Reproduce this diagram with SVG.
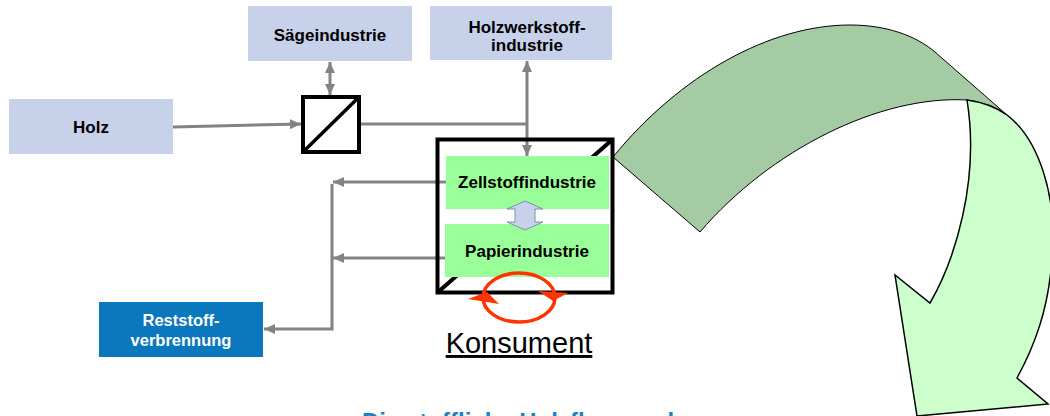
<svg xmlns="http://www.w3.org/2000/svg" width="1050" height="416" viewBox="0 0 1050 416">
<defs>
<style>
.lb{fill:#c7d2ea}
.t{font-family:"Liberation Sans",Arial,sans-serif;font-weight:bold;font-size:17px;fill:#000;text-anchor:middle}
.tw{fill:#fff;font-size:16.5px}
.c{stroke:#838383;stroke-width:3;fill:none}
.k{stroke:#000;stroke-width:4;fill:none}
</style>
<marker id="ah" markerUnits="userSpaceOnUse" markerWidth="11" markerHeight="10" refX="11" refY="5" orient="auto-start-reverse" viewBox="0 0 11 10">
<path d="M0,0 L11,5 L0,10 z" fill="#838383"/>
</marker>
<clipPath id="kc"><rect x="437.5" y="139.5" width="175" height="153"/></clipPath>
</defs>
<rect width="1050" height="416" fill="#fff"/>

<g id="big-arrow">
<path d="M613,157 C680,75 770,25 850,25 C885,25 915,35 935,52 L1007,115 Q990,103 967,100 C880,95 770,150 700,232 Z" fill="#a4cba4" stroke="#000" stroke-width="1"/>
<path d="M967,100 Q990,103 1007,115 C1040,140 1058,200 1052,260 C1048,310 1035,345 1017,378 L1048,404 L917,416 L895,275 L930,303 C955,260 980,180 967,100 Z" fill="#ccffcc" stroke="#000" stroke-width="1.5"/>
</g>

<g id="connectors">
<line class="c" x1="173" y1="127" x2="301" y2="124" marker-end="url(#ah)"/>
<line class="c" x1="330" y1="62" x2="330" y2="95" marker-start="url(#ah)" marker-end="url(#ah)"/>
<polyline class="c" points="360,124 527,124"/>
<line class="c" x1="527" y1="61" x2="527" y2="156" marker-start="url(#ah)" marker-end="url(#ah)"/>
<line class="c" x1="446" y1="182" x2="333" y2="182" marker-end="url(#ah)"/>
<line class="c" x1="446" y1="258" x2="333" y2="258" marker-end="url(#ah)"/>
<polyline class="c" points="332,184 332,329 264,329" marker-end="url(#ah)"/>
</g>

<g id="holz">
<rect class="lb" x="9" y="99" width="164" height="55"/>
<text class="t" x="91" y="133">Holz</text>
</g>
<g id="saegeindustrie">
<rect class="lb" x="248" y="6" width="164" height="55"/>
<text class="t" x="330" y="41">Sägeindustrie</text>
</g>
<g id="holzwerkstoffindustrie">
<rect class="lb" x="430" y="6" width="182" height="54"/>
<text class="t" x="527" y="33">Holzwerkstoff-</text>
<text class="t" x="527" y="51">industrie</text>
</g>
<g id="splitter">
<rect class="k" x="303" y="97" width="56" height="55" stroke-width="3.5"/>
<line x1="303" y1="152" x2="359" y2="97" stroke="#000" stroke-width="3.5"/>
</g>
<g id="reststoffverbrennung">
<rect x="99" y="302" width="164" height="55" fill="#0b77bd"/>
<text class="t tw" x="181" y="326">Reststoff-</text>
<text class="t tw" x="181" y="346">verbrennung</text>
</g>

<g id="konsument">
<line x1="437" y1="293" x2="613" y2="139" stroke="#000" stroke-width="4" clip-path="url(#kc)"/>
<rect class="k" x="437.5" y="139.5" width="175" height="153"/>
<g id="zellstoffindustrie">
<rect x="446" y="156" width="163" height="53" fill="#99ff99"/>
<text class="t" x="527" y="188">Zellstoffindustrie</text>
</g>
<g id="papierindustrie">
<rect x="445" y="224" width="164" height="53" fill="#99ff99"/>
<text class="t" x="527" y="257">Papierindustrie</text>
</g>
<polygon points="525,201 543,209 535,209 535,222 543,222 525,230 507,222 515,222 515,209 507,209" fill="#c7d2ea" stroke="#8090a8" stroke-width="1"/>
<ellipse cx="519" cy="297.5" rx="36" ry="24.5" fill="none" stroke="#ff3300" stroke-width="3.5"/>
<polygon points="468,299 487,292 499,304" fill="#ff3300"/>
<polygon points="538,291 568,293 553,301" fill="#ff3300"/>
<text x="519" y="353" font-family="'Liberation Sans',Arial,sans-serif" font-size="29" text-anchor="middle" text-decoration="underline" fill="#000">Konsument</text>
</g>

<text x="362" y="430" font-family="'Liberation Sans',Arial,sans-serif" font-weight="bold" font-size="24" fill="#1a7fc4">Die stoffliche Holzflussanalyse</text>
</svg>
